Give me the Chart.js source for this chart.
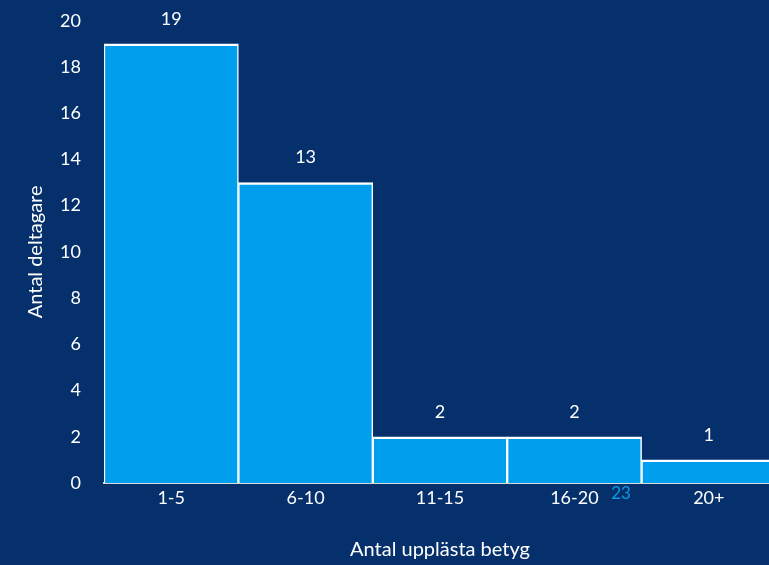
<!DOCTYPE html>
<html>
<head>
<meta charset="utf-8">
<script src="https://cdn.jsdelivr.net/npm/chart.js@4/dist/chart.umd.min.js"></script>
<style>
  html, body { margin: 0; padding: 0; background: #05306B; overflow: hidden; height: 565px; }
  #wrap { position: relative; width: 776px; height: 578px; margin-top: -13px; }
</style>
</head>
<body>
<div id="wrap"><canvas id="myChart" width="776" height="578"></canvas></div>
<script>
// data
var categories = ["1-5", "6-10", "11-15", "16-20", "20+"];
var participants = [19, 13, 2, 2, 1];
var yTicks = [0, 2, 4, 6, 8, 10, 12, 14, 16, 18, 20];
var xTitle = "Antal upplästa betyg";
var yTitle = "Antal deltagare";
var slideNumber = "23";

var fontFamily = "Lato, 'Open Sans', sans-serif";

// value labels above bars + slide number
var labelPlugin = {
  id: "labels",
  afterDatasetsDraw: function (chart) {
    var ctx = chart.ctx;
    var meta = chart.getDatasetMeta(0);
    ctx.save();
    ctx.fillStyle = "#ffffff";
    ctx.font = "18px " + fontFamily;
    ctx.textAlign = "center";
    ctx.textBaseline = "middle";
    meta.data.forEach(function (bar, i) {
      ctx.fillText(String(participants[i]), bar.x, bar.y - 25);
    });
    ctx.restore();
  },
  afterDraw: function (chart) {
    // slide number sits just under the axis line
    var ctx = chart.ctx;
    ctx.save();
    ctx.fillStyle = "#0A9BE4";
    ctx.font = "17px " + fontFamily;
    ctx.textAlign = "center";
    ctx.textBaseline = "middle";
    ctx.fillText(slideNumber, 621, chart.chartArea.bottom + 11);
    ctx.restore();
  },
};

new Chart("myChart", {
  type: "bar",
  data: {
    labels: categories,
    datasets: [
      {
        label: yTitle,
        data: participants,
        backgroundColor: "#009FEE",
        borderColor: "#ffffff",
        borderWidth: { top: 2.5, left: 1.5, right: 1.5, bottom: 0 },
        borderSkipped: "start",
        barPercentage: 1,
        categoryPercentage: 1,
      },
    ],
  },
  options: {
    responsive: false,
    animation: false,
    layout: { padding: { left: 24, top: 10, right: 0, bottom: 0 } },
    plugins: {
      legend: { display: false },
      tooltip: { enabled: false },
    },
    scales: {
      x: {
        grid: { display: false, drawTicks: false },
        border: { display: true, color: "#D9D9D9", width: 2 },
        ticks: {
          color: "#ffffff",
          font: { size: 18, family: fontFamily },
          padding: 4,
          maxRotation: 0,
        },
        title: {
          display: true,
          text: xTitle,
          color: "#ffffff",
          font: { size: 20, family: fontFamily },
          padding: { top: 4, bottom: 3 },
        },
        afterFit: function (scale) {
          scale.height = 82;
        },
      },
      y: {
        min: 0,
        max: 20,
        grid: { display: false, drawTicks: false },
        border: { display: false },
        afterBuildTicks: function (scale) {
          scale.ticks = yTicks.map(function (v) { return { value: v }; });
        },
        ticks: {
          color: "#ffffff",
          font: { size: 18, family: fontFamily },
          padding: 23,
        },
        title: {
          display: true,
          text: yTitle,
          color: "#ffffff",
          font: { size: 20, family: fontFamily },
          padding: 0,
        },
        afterFit: function (scale) {
          scale.width = 80;
        },
      },
    },
  },
  plugins: [labelPlugin],
});
</script>
</body>
</html>
